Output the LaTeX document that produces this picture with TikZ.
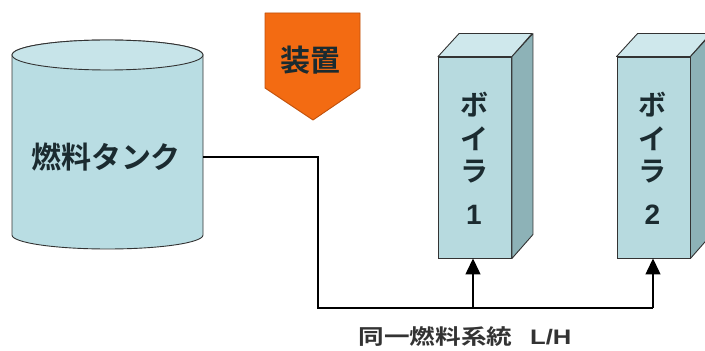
\documentclass[tikz,border=0pt]{standalone}
\usepackage{fontspec}
\newfontfamily\cjk{Noto Sans CJK JP}[BoldFont={Noto Sans CJK JP Bold}]
\newfontfamily\lat{Liberation Sans}
\usetikzlibrary{arrows.meta}
\definecolor{tankfill}{HTML}{B9DDE3}
\definecolor{boxfront}{HTML}{B7DADF}
\definecolor{boxtop}{HTML}{CFE8EC}
\definecolor{boxside}{HTML}{8DB2B7}
\definecolor{devfill}{HTML}{F36B12}
\definecolor{devedge}{HTML}{C0500A}
\definecolor{txt}{HTML}{1B2B30}
\tikzset{
  lbl/.style={font=\cjk\bfseries\fontsize{30}{33}\selectfont, text=txt, inner sep=0pt},
  blbl/.style={font=\cjk\bfseries\fontsize{28}{33}\selectfont, text=txt, inner sep=0pt},
  pipe/.style={draw=black, line width=1.6pt},
  feed/.style={draw=black, line width=1.3pt},
  face/.style={draw=black!80, line width=0.9pt, line join=round},
  boiler/.style={rectangle, minimum width=73pt, minimum height=201pt, inner sep=0pt, fill=boxfront, draw=black!80, line width=0.9pt},
}
\begin{document}
\begin{tikzpicture}[x=1pt,y=1pt,>={Triangle[length=16pt,width=15pt]}]
\useasboundingbox (0,0) rectangle (705,351);
% fuel tank
\path[face, fill=tankfill] (12,296) -- (12,116) arc[start angle=180, end angle=360, x radius=95.5, y radius=14] -- (203,296) arc[start angle=0, end angle=180, x radius=95.5, y radius=15] -- cycle;
\draw[face, fill=tankfill!80!white] (107.5,296) ellipse[x radius=95.5, y radius=15];
\node[inner sep=0pt, minimum width=191pt, minimum height=180pt] (tank) at (107.5,206) {};
\node[lbl] (tanklbl) at (106,194) {燃料タンク};
% device
\draw[draw=devedge, line width=0.9pt, fill=devfill, line join=round] (265,338) -- (360,338) -- (360,263) -- (313,231) -- (265,263) -- cycle;
\node[lbl] (dev) at (310.5,291) {装置};
% boilers
\foreach \n/\cx/\num in {b1/475/1, b2/653.5/2}{
  \node[boiler] (\n) at (\cx,193.5) {};
  \draw[face, fill=boxtop] (\n.north west) -- ++(21,23) -- ++(73,0) -- (\n.north east) -- cycle;
  \draw[face, fill=boxside] (\n.north east) -- ++(21,23) -- ++(0,-201) -- (\n.south east) -- cycle;
  \node[blbl] (\n c1) at ([xshift=-1pt]\n.center |- 0,246.5) {ボ};
  \node[blbl] (\n c2) at ([xshift=-1pt]\n.center |- 0,212) {イ};
  \node[blbl] (\n c3) at ([xshift=-1pt]\n.center |- 0,179.5) {ラ};
  \node[blbl, font=\lat\bfseries\fontsize{28}{33}\selectfont] (\n c4) at ([xshift=-1pt]\n.center |- 0,136) {\num};
}
% piping
\coordinate (j1) at (318,194);
\coordinate (j2) at (318,43);
\coordinate (j3) at (473,43);
\coordinate (j4) at (653,43);
\draw[pipe] (tank.east |- j1) -- (j1) -- (j2) -- (j4);
\draw[feed,->] (j3) -- (j3 |- b1.south);
\draw[feed,->] (j4) -- (j4 |- b2.south);
\node[lbl, font=\cjk\bfseries\fontsize{21}{24}\selectfont, text=black!80] (sys) at (465,15) {\scalebox{1.22}[1]{同一燃料系統\hspace{0.7em}{\lat\bfseries L/H}}};
\end{tikzpicture}
\end{document}
